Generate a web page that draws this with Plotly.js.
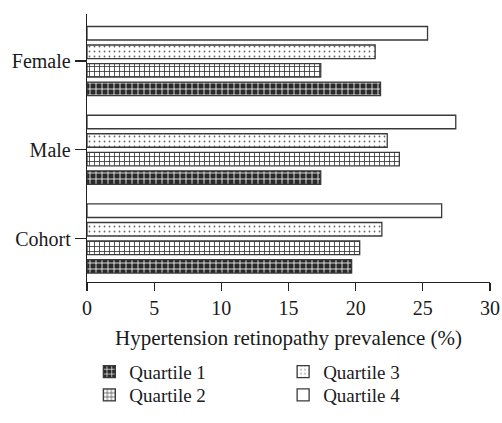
<!DOCTYPE html>
<html><head><meta charset="utf-8">
<script src="https://cdn.plot.ly/plotly-3.0.1.min.js"></script>
<style>html,body{margin:0;padding:0;background:#fff}#chart{width:502px;height:423px}</style>
</head><body><div id="chart"></div>
<script>
const categories = ["Cohort", "Male", "Female"];
const quartile1 = [19.7, 17.4, 21.85];
const quartile2 = [20.3, 23.25, 17.4];
const quartile3 = [21.95, 22.35, 21.45];
const quartile4 = [26.4, 27.45, 25.35];
const seriesNames = ["Quartile 1", "Quartile 2", "Quartile 3", "Quartile 4"];
const xTicks = [0, 5, 10, 15, 20, 25, 30];

const font = "Liberation Serif, Times New Roman, serif";
const fs = 20;
const line = {color: "#3a3a3a", width: 1.3};
const styles = [
  {color: "#2a2a2a", line, pattern: {shape: "+", bgcolor: "#2a2a2a", fgcolor: "#ffffff", size: 6, solidity: 0.25}},
  {color: "#ffffff", line, pattern: {shape: "+", bgcolor: "#ffffff", fgcolor: "#333333", size: 5, solidity: 0.3}},
  {color: "#ffffff", line, pattern: {shape: ".", bgcolor: "#ffffff", fgcolor: "#666666", size: 5, solidity: 0.1}},
  {color: "#ffffff", line}
];
const values = [quartile1, quartile2, quartile3, quartile4];
const legendIds = ["legend", "legend2", "legend3", "legend4"];
const data = values.map((v, i) => ({
  type: "bar", orientation: "h", y: categories, x: v, name: seriesNames[i],
  marker: styles[i], legend: legendIds[i], hoverinfo: "skip"
}));

function legendBox(x, y) {
  return {xref: "container", yref: "container", x: x, y: y, xanchor: "left", yanchor: "top",
    orientation: "v", font: {family: font, size: 19}, tracegroupgap: 0, itemwidth: 30,
    bgcolor: "rgba(0,0,0,0)"};
}

const layout = {
  width: 502, height: 423,
  margin: {l: 87, r: 12, t: 14, b: 141, autoexpand: false},
  paper_bgcolor: "#fff", plot_bgcolor: "#fff",
  font: {family: font, size: fs, color: "#1a1a1a"},
  barmode: "group", bargap: 0.165, bargroupgap: 0.27,
  showlegend: true,
  xaxis: {
    range: [0, 30], tickvals: xTicks, ticktext: xTicks.map(String), automargin: false,
    showgrid: false, zeroline: false, showline: true, linecolor: "#222", linewidth: 1.3,
    ticks: "outside", ticklen: 8, tickwidth: 1.3, tickcolor: "#222",
    tickfont: {family: font, size: fs},
    title: {text: "Hypertension retinopathy prevalence (%)", font: {family: font, size: 21}, standoff: 12}
  },
  yaxis: {
    type: "category", range: [-0.49, 2.53], automargin: false,
    showgrid: false, zeroline: false, showline: true, linecolor: "#222", linewidth: 1.3,
    ticks: "outside", ticklen: 11, tickwidth: 1.3, tickcolor: "#222",
    tickfont: {family: font, size: fs}
  },
  legend: legendBox(0.178, 0.166),
  legend2: legendBox(0.178, 0.111),
  legend3: legendBox(0.564, 0.166),
  legend4: legendBox(0.564, 0.111)
};
Plotly.newPlot("chart", data, layout, {displayModeBar: false, staticPlot: true});
</script></body></html>
